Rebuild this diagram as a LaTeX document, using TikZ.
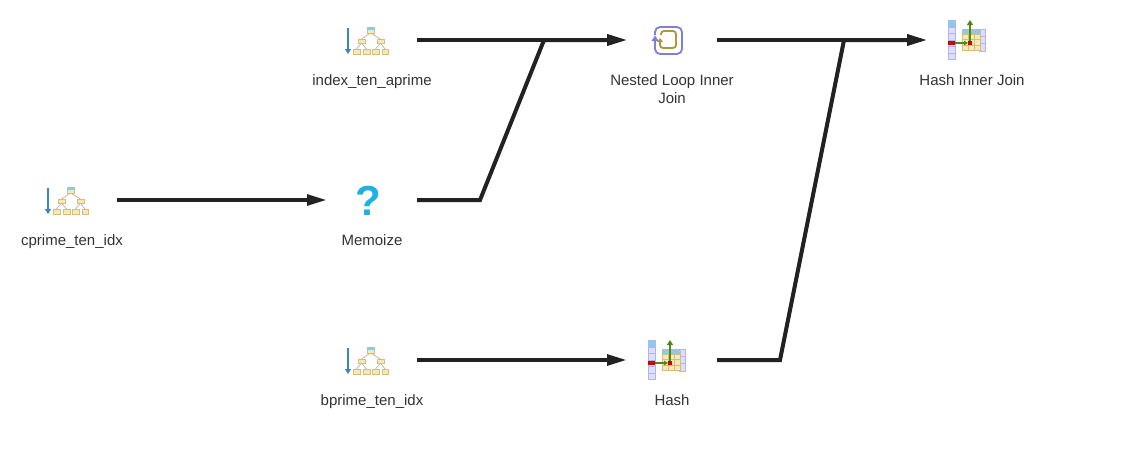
\documentclass[tikz,border=0pt]{standalone}
\usepackage{fontspec}
\setmainfont{Liberation Sans}
\usetikzlibrary{arrows.meta}
\definecolor{edgec}{HTML}{222222}
\definecolor{txt}{HTML}{333333}
\definecolor{folder}{HTML}{F7E9B4}
\definecolor{folderb}{HTML}{D8BC7C}
\definecolor{skyc}{HTML}{86CDEC}
\definecolor{arrowb}{HTML}{3A86BE}
\definecolor{loopo}{HTML}{7F7FD8}
\definecolor{loopi}{HTML}{A89A3A}
\definecolor{lav}{HTML}{DDDEF7}
\definecolor{lavb}{HTML}{B4B4EA}
\definecolor{grn}{HTML}{4F8A10}
\definecolor{redc}{HTML}{D40000}
\definecolor{qblue}{HTML}{1FB0E6}
\tikzset{
  x=1pt,y=-1pt,
  slot/.style={minimum width=90pt,minimum height=40pt,inner sep=0pt,outer sep=0pt},
  lbl/.style={font=\fontsize{15}{18}\selectfont,text=txt,align=center,inner sep=0pt,anchor=base},
  edge/.style={draw=edgec,line width=4pt,miter limit=10,-{Triangle[length=20pt,width=10.5pt]}},
  tbox/.style={draw=folderb,fill=folder,line width=1pt},
  tlink/.style={draw=gray!60,line width=.7pt},
  cell/.style={draw=lavb,fill=lav,line width=1pt},
  gcell/.style={draw=folderb,fill=folder,line width=.7pt},
  bcell/.style={draw=lavb!70!folderb,fill=skyc,line width=.7pt}
}
\newcommand{\indexicon}[1]{%
\begin{scope}[shift={(#1)}]
  \draw[arrowb,line width=1.8pt,-{Triangle[length=5pt,width=6pt]}] (-24,-12) -- (-24,14);
  \draw[tlink] (-1.5,-7)--(-10.5,-1) (-1.5,-7)--(8.5,-1) (-10.5,3)--(-15.5,9) (-10.5,3)--(-5.5,9) (8.5,3)--(3.5,9) (8.5,3)--(13,9);
  \draw[tbox] (-5,-13) rectangle (2,-7);
  \fill[skyc] (-5,-13) rectangle (2,-10);
  \draw[tbox] (-14,-1) rectangle (-7,3);
  \draw[tbox] (5,-1) rectangle (12,3);
  \draw[tbox] (-19,9) rectangle (-12,14);
  \draw[tbox] (-9,9) rectangle (-2,14);
  \draw[tbox] (0,9) rectangle (7,14);
  \draw[tbox] (10,9) rectangle (16,14);
\end{scope}}
\newcommand{\hashicon}[1]{%
\begin{scope}[shift={(#1)}]
  \foreach \yy in {-13,-6.5,0,6.5,13}{\draw[cell] (-24,\yy) rectangle (-17,\yy+6.5);}
  \fill[skyc,draw=lavb,line width=1pt] (-24,-20) rectangle (-17,-13);
  \fill[redc] (-24,1) rectangle (-17,5);
  \foreach \yy in {-11,-4,3}{\draw[cell] (7,\yy) rectangle (13,\yy+8);}
  \foreach \xx in {-10,-4,2}{
    \draw[bcell] (\xx,-11) rectangle (\xx+6,-6);
    \foreach \yy in {-6,-0.5,5}{\draw[gcell] (\xx,\yy) rectangle (\xx+6,\yy+5.5);}
  }
  \fill[redc] (-4,1) rectangle (0,5);
  \draw[grn,line width=1.3pt,-{Triangle[length=4pt,width=4.5pt]}] (-17,3) -- (-4,3);
  \draw[grn,line width=1.3pt,-{Triangle[length=5pt,width=6pt]}] (-2,1) -- (-2,-20);
\end{scope}}
\begin{document}
\begin{tikzpicture}
\useasboundingbox (0,0) rectangle (1132,474);
\fill[white] (0,0) rectangle (1132,474);
% slots carrying the connectors
\node[slot] (idxa) at (372,40) {};
\node[slot] (nl) at (672,40) {};
\node[slot] (hj) at (972,40) {};
\node[slot] (cp) at (72,200) {};
\node[slot] (mem) at (372,200) {};
\node[slot] (bp) at (372,360) {};
\node[slot] (hs) at (672,360) {};
\coordinate (m1) at (480,200);
\coordinate (m2) at (544,40);
\coordinate (h1) at (780,360);
\coordinate (h2) at (844,40);
% icons
\indexicon{372,40}
\indexicon{72,200}
\indexicon{372,360}
\hashicon{972,40}
\hashicon{672,360}
\draw[loopo,line width=1.8pt,rounded corners=5pt] (655,35) -- (655,27) -- (682,27) -- (682,54) -- (655,54) -- (655,40);
\fill[loopo] (651.5,41) -- (655,35.5) -- (658.5,41) -- cycle;
\draw[loopi,line width=1.8pt,rounded corners=3pt] (661,35) -- (661,31) -- (676,31) -- (676,48) -- (660,48) -- (660,42);
\fill[loopi] (657,42) -- (660,38) -- (663,42) -- cycle;
\node[inner sep=0pt,font=\fontsize{42}{42}\bfseries\selectfont,text=qblue] (q) at (368,201) {?};
% labels
\node[lbl] (l1) at (372,85) {index\_ten\_aprime};
\node[lbl] (l2a) at (672,85) {Nested Loop Inner};
\node[lbl] (l2b) at (672,103) {Join};
\node[lbl] (l3) at (972,85) {Hash Inner Join};
\node[lbl] (l4) at (72,245) {cprime\_ten\_idx};
\node[lbl] (l5) at (372,245) {Memoize};
\node[lbl] (l6) at (372,405) {bprime\_ten\_idx};
\node[lbl] (l7) at (672,405) {Hash};
% connectors
\draw[edge] (idxa.east) -- (nl.west);
\draw[edge] (mem.east) -- (m1) -- (m2) -- (nl.west);
\draw[edge] (nl.east) -- (hj.west);
\draw[edge] (hs.east) -- (h1) -- (h2) -- (hj.west);
\draw[edge] (cp.east) -- (mem.west);
\draw[edge] (bp.east) -- (hs.west);
\end{tikzpicture}
\end{document}
